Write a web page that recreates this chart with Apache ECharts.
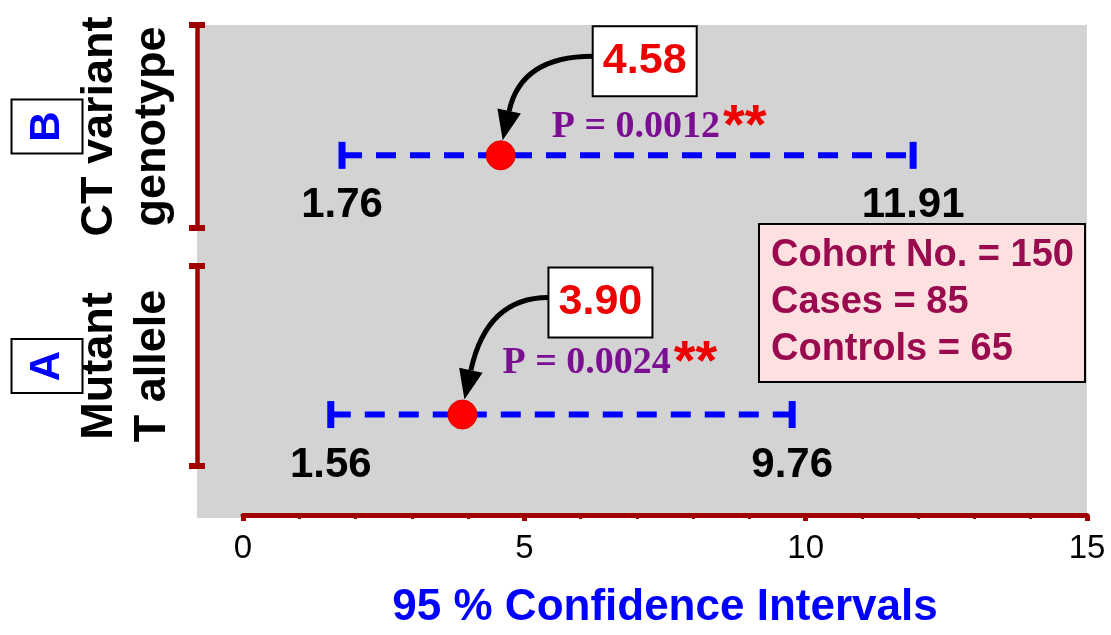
<!DOCTYPE html>
<html>
<head>
<meta charset="utf-8">
<script src="https://cdn.jsdelivr.net/npm/echarts@6/dist/echarts.min.js"></script>
<style>
  html, body { margin: 0; padding: 0; background: #ffffff; }
  #chart { width: 1111px; height: 635px; }
</style>
</head>
<body>
<div id="chart"></div>
<script>
// Odds ratios with 95 % confidence intervals for two genetic models
const rowTags = ['A', 'B'];
const rowTitles = [['Mutant', 'T allele'], ['CT variant', 'genotype']];
const oddsRatio = [3.90, 4.58];
const ciLower = [1.56, 1.76];
const ciUpper = [9.76, 11.91];
const pValues = ['0.0024', '0.0012'];
const pStars = ['**', '**'];
const cohortLines = ['Cohort No. = 150', 'Cases = 85', 'Controls = 65'];
const xMin = 0, xMax = 15, xStep = 5;
const xTitle = '95 % Confidence Intervals';

// Layout settings
const SANS = '"Liberation Sans", Arial, Helvetica, sans-serif';
const SERIF = '"Liberation Serif", "Times New Roman", serif';
const AXIS_RED = '#a00000';
const CI_BLUE = '#0000ff';
const ROW_Y = [0.205, 0.734];                    // vertical slot of each row in the plot (0 bottom, 1 top)
const VALUE_BOX_OFFSET = [[138, -112], [144, -94]];
const P_OFFSET = [[40, -51], [51, -28]];

const chart = echarts.init(document.getElementById('chart'), null, { renderer: 'canvas' });

function bracketAxis(gridIndex, i) {
  return {
    gridIndex: gridIndex,
    type: 'value', min: 0, max: 1,
    position: 'left',
    z: 3,
    axisLine: {
      show: true, onZero: false,
      symbol: ['rect', 'rect'], symbolSize: [16, 6],
      lineStyle: { color: AXIS_RED, width: 4.5 }
    },
    axisTick: { show: false },
    axisLabel: { show: false },
    splitLine: { show: false },
    name: '{tag|' + rowTags[i] + '}\n{t|' + rowTitles[i][0] + '}\n{t|' + rowTitles[i][1] + '}',
    nameLocation: 'middle',
    nameRotate: 90,
    nameGap: 18,
    nameTextStyle: {
      align: 'center',
      rich: {
        tag: {
          color: CI_BLUE, fontFamily: SANS, fontWeight: 'bold', fontSize: 42,
          backgroundColor: '#ffffff', borderColor: '#000000', borderWidth: 2,
          width: 52, height: 69, lineHeight: 52, align: 'center'
        },
        t: { color: '#000000', fontFamily: SANS, fontWeight: 'bold', fontSize: 45, lineHeight: 53, align: 'center' }
      }
    }
  };
}

const series = [];
rowTags.forEach(function (tag, i) {
  // dashed confidence-interval bar with end caps and end values
  series.push({
    type: 'line', name: 'CI ' + tag,
    xAxisIndex: 1, yAxisIndex: 1,
    data: [[ciLower[i], ROW_Y[i]], [ciUpper[i], ROW_Y[i]]],
    symbol: 'rect', symbolSize: [7, 27], showSymbol: true,
    itemStyle: { color: CI_BLUE, opacity: 1 },
    lineStyle: { color: CI_BLUE, width: 6, type: [20, 14], cap: 'butt' },
    label: {
      show: true, position: 'bottom', distance: 16,
      formatter: function (p) { return p.value[0].toFixed(2); },
      color: '#000000', fontFamily: SANS, fontWeight: 'bold', fontSize: 42, lineHeight: 42
    },
    z: 3, silent: true
  });
});

// odds-ratio dots with boxed value callouts
series.push({
  type: 'scatter', name: 'OR',
  xAxisIndex: 1, yAxisIndex: 1,
  data: oddsRatio.map(function (v, i) {
    return { value: [v, ROW_Y[i]], label: { offset: VALUE_BOX_OFFSET[i] } };
  }),
  symbol: 'circle', symbolSize: 29,
  itemStyle: { color: '#ff0000', borderColor: '#e00000', borderWidth: 1, opacity: 1 },
  label: {
    show: true, position: 'inside',
    formatter: function (p) { return p.value[0].toFixed(2); },
    color: '#ee0000', fontFamily: SANS, fontWeight: 'bold', fontSize: 43,
    lineHeight: 54, width: 84, align: 'center', verticalAlign: 'middle',
    backgroundColor: '#ffffff', borderColor: '#000000', borderWidth: 2, padding: [7, 9]
  },
  z: 5, silent: true
});

// p-value annotations
series.push({
  type: 'scatter', name: 'P',
  xAxisIndex: 1, yAxisIndex: 1,
  data: oddsRatio.map(function (v, i) {
    return {
      value: [v, ROW_Y[i]],
      label: { offset: P_OFFSET[i], formatter: '{p|P = ' + pValues[i] + '}{s|' + pStars[i] + '}' }
    };
  }),
  symbolSize: 1,
  itemStyle: { color: 'rgba(0,0,0,0)', opacity: 1 },
  label: {
    show: true, position: 'inside', align: 'left', verticalAlign: 'middle',
    rich: {
      p: { fontFamily: SERIF, fontWeight: 'bold', fontSize: 38, color: '#7b0f91', lineHeight: 40 },
      s: { fontFamily: SANS, fontWeight: 'bold', fontSize: 56, color: '#ee0000', lineHeight: 40, padding: [0, 0, 0, 3] }
    }
  },
  z: 4, silent: true
});

const option = {
  animation: false,
  backgroundColor: '#ffffff',
  title: {
    text: cohortLines.join('\n'),
    left: 759, top: 224,
    padding: [8, 11, 9, 12],
    backgroundColor: '#fde0e0', borderColor: '#000000', borderWidth: 2,
    textStyle: { fontFamily: SANS, fontWeight: 'bold', fontSize: 38, lineHeight: 47, color: '#990a4f' }
  },
  grid: [
    { left: 197, right: 24, top: 25, bottom: 117, show: true, backgroundColor: '#d3d3d3', borderWidth: 0, z: 0 },
    { left: 243, right: 24, top: 25, bottom: 118 },
    { left: 197, right: 24, top: 266, height: 200 },
    { left: 197, right: 24, top: 25, height: 203 }
  ],
  xAxis: [
    { gridIndex: 0, type: 'value', show: false },
    {
      gridIndex: 1, type: 'value', min: xMin, max: xMax, interval: xStep, z: 3,
      axisLine: { show: true, onZero: false, lineStyle: { color: AXIS_RED, width: 5 } },
      axisTick: { show: true, length: 6, lineStyle: { color: AXIS_RED, width: 5 } },
      minorTick: { show: true, splitNumber: 5, length: 4, lineStyle: { color: AXIS_RED, width: 3 } },
      splitLine: { show: false },
      axisLabel: { color: '#000000', fontFamily: SANS, fontSize: 33, margin: 17 },
      name: xTitle, nameLocation: 'middle', nameGap: 71,
      nameTextStyle: { color: CI_BLUE, fontFamily: SANS, fontWeight: 'bold', fontSize: 44 }
    },
    { gridIndex: 2, type: 'value', show: false },
    { gridIndex: 3, type: 'value', show: false }
  ],
  yAxis: [
    { gridIndex: 0, type: 'value', show: false },
    { gridIndex: 1, type: 'value', min: 0, max: 1, show: false },
    bracketAxis(2, 0),
    bracketAxis(3, 1)
  ],
  series: series
};

chart.setOption(option);

// curved callout arrows from each value box to its dot
const arrows = [];
oddsRatio.forEach(function (v, i) {
  const dot = chart.convertToPixel({ gridIndex: 1 }, [v, ROW_Y[i]]);
  const cx = dot[0] + VALUE_BOX_OFFSET[i][0];
  const cy = dot[1] + VALUE_BOX_OFFSET[i][1];
  const S = [cx - 52, cy - 5];
  const T = [dot[0] + 2, dot[1] - 15];
  const len = Math.hypot(-0.22, 1);
  const u = [-0.22 / len, 1 / len];
  const L = 30, W = 24;
  const B = [T[0] - L * u[0], T[1] - L * u[1]];
  const t = (B[1] - S[1]) / u[1];
  const C = [B[0] - t * u[0], S[1]];
  const perp = [u[1], -u[0]];
  arrows.push({
    type: 'bezierCurve', z: 6, silent: true,
    shape: { x1: S[0], y1: S[1], cpx1: C[0], cpy1: C[1], x2: B[0], y2: B[1] },
    style: { stroke: '#000000', lineWidth: 5, fill: null }
  });
  arrows.push({
    type: 'polygon', z: 6, silent: true,
    shape: { points: [T, [B[0] + perp[0] * W / 2, B[1] + perp[1] * W / 2], [B[0] - perp[0] * W / 2, B[1] - perp[1] * W / 2]] },
    style: { fill: '#000000' }
  });
});
chart.setOption({ graphic: arrows });
</script>
</body>
</html>
